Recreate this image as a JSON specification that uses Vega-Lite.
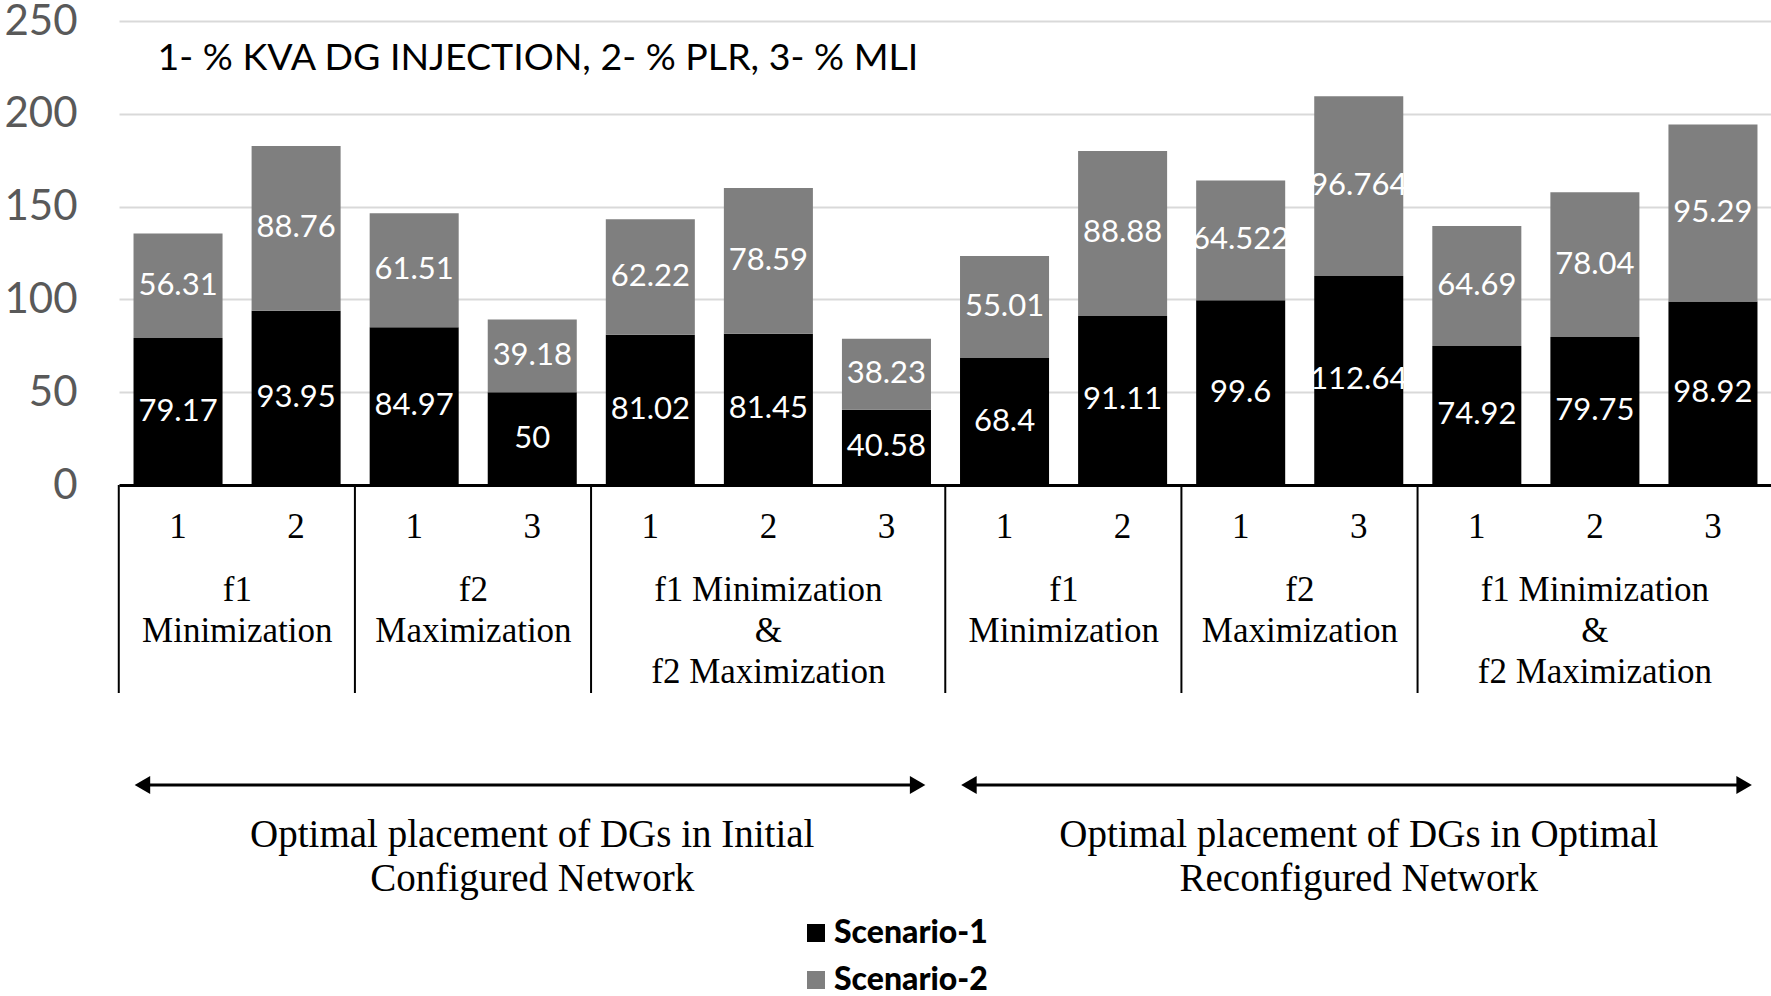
{
  "$schema": "https://vega.github.io/schema/vega-lite/v6.json",
  "background": "white",
  "padding": {"top": 0, "left": 3, "right": 0, "bottom": 0},
  "bounds": "flush",
  "spacing": 0,
  "config": {"view": {"stroke": null}, "font": "Lato"},
  "datasets": {
    "bars": [
      {"id": "01", "net": "Initial", "obj": "f1\nMinimization", "metric": "1", "scenario": "Scenario-1", "value": 79.17},
      {"id": "01", "net": "Initial", "obj": "f1\nMinimization", "metric": "1", "scenario": "Scenario-2", "value": 56.31},
      {"id": "02", "net": "Initial", "obj": "f1\nMinimization", "metric": "2", "scenario": "Scenario-1", "value": 93.95},
      {"id": "02", "net": "Initial", "obj": "f1\nMinimization", "metric": "2", "scenario": "Scenario-2", "value": 88.76},
      {"id": "03", "net": "Initial", "obj": "f2\nMaximization", "metric": "1", "scenario": "Scenario-1", "value": 84.97},
      {"id": "03", "net": "Initial", "obj": "f2\nMaximization", "metric": "1", "scenario": "Scenario-2", "value": 61.51},
      {"id": "04", "net": "Initial", "obj": "f2\nMaximization", "metric": "3", "scenario": "Scenario-1", "value": 50},
      {"id": "04", "net": "Initial", "obj": "f2\nMaximization", "metric": "3", "scenario": "Scenario-2", "value": 39.18},
      {"id": "05", "net": "Initial", "obj": "f1 Minimization\n&\nf2 Maximization", "metric": "1", "scenario": "Scenario-1", "value": 81.02},
      {"id": "05", "net": "Initial", "obj": "f1 Minimization\n&\nf2 Maximization", "metric": "1", "scenario": "Scenario-2", "value": 62.22},
      {"id": "06", "net": "Initial", "obj": "f1 Minimization\n&\nf2 Maximization", "metric": "2", "scenario": "Scenario-1", "value": 81.45},
      {"id": "06", "net": "Initial", "obj": "f1 Minimization\n&\nf2 Maximization", "metric": "2", "scenario": "Scenario-2", "value": 78.59},
      {"id": "07", "net": "Initial", "obj": "f1 Minimization\n&\nf2 Maximization", "metric": "3", "scenario": "Scenario-1", "value": 40.58},
      {"id": "07", "net": "Initial", "obj": "f1 Minimization\n&\nf2 Maximization", "metric": "3", "scenario": "Scenario-2", "value": 38.23},
      {"id": "08", "net": "Optimal", "obj": "f1\nMinimization", "metric": "1", "scenario": "Scenario-1", "value": 68.4},
      {"id": "08", "net": "Optimal", "obj": "f1\nMinimization", "metric": "1", "scenario": "Scenario-2", "value": 55.01},
      {"id": "09", "net": "Optimal", "obj": "f1\nMinimization", "metric": "2", "scenario": "Scenario-1", "value": 91.11},
      {"id": "09", "net": "Optimal", "obj": "f1\nMinimization", "metric": "2", "scenario": "Scenario-2", "value": 88.88},
      {"id": "10", "net": "Optimal", "obj": "f2\nMaximization", "metric": "1", "scenario": "Scenario-1", "value": 99.6},
      {"id": "10", "net": "Optimal", "obj": "f2\nMaximization", "metric": "1", "scenario": "Scenario-2", "value": 64.522},
      {"id": "11", "net": "Optimal", "obj": "f2\nMaximization", "metric": "3", "scenario": "Scenario-1", "value": 112.64},
      {"id": "11", "net": "Optimal", "obj": "f2\nMaximization", "metric": "3", "scenario": "Scenario-2", "value": 96.764},
      {"id": "12", "net": "Optimal", "obj": "f1 Minimization\n&\nf2 Maximization", "metric": "1", "scenario": "Scenario-1", "value": 74.92},
      {"id": "12", "net": "Optimal", "obj": "f1 Minimization\n&\nf2 Maximization", "metric": "1", "scenario": "Scenario-2", "value": 64.69},
      {"id": "13", "net": "Optimal", "obj": "f1 Minimization\n&\nf2 Maximization", "metric": "2", "scenario": "Scenario-1", "value": 79.75},
      {"id": "13", "net": "Optimal", "obj": "f1 Minimization\n&\nf2 Maximization", "metric": "2", "scenario": "Scenario-2", "value": 78.04},
      {"id": "14", "net": "Optimal", "obj": "f1 Minimization\n&\nf2 Maximization", "metric": "3", "scenario": "Scenario-1", "value": 98.92},
      {"id": "14", "net": "Optimal", "obj": "f1 Minimization\n&\nf2 Maximization", "metric": "3", "scenario": "Scenario-2", "value": 95.29}
    ],
    "nets": [
      {"net": "Initial", "first": "01", "mid": "04", "last": "07", "caption": "Optimal placement of DGs in Initial\nConfigured Network"},
      {"net": "Optimal", "first": "08", "mid": "11", "last": "14", "caption": "Optimal placement of DGs in Optimal\nReconfigured Network"}
    ]
  },
  "resolve": {"scale": {"x": "shared"}},
  "vconcat": [
    {
      "width": 1653,
      "height": 464,
      "data": {"name": "bars"},
      "layer": [
        {
          "mark": {"type": "bar"},
          "encoding": {
            "x": {"field": "id", "type": "nominal", "scale": {"paddingInner": 0.246, "paddingOuter": 0.123},
                  "axis": {"labels": false, "ticks": false, "title": null, "grid": false, "domainColor": "#000000", "domainWidth": 3}},
            "y": {"field": "value", "type": "quantitative", "stack": "zero", "scale": {"domain": [0, 250], "nice": false},
                  "axis": {"values": [0, 50, 100, 150, 200, 250], "title": null, "domain": false, "ticks": false,
                           "labelFont": "Lato", "labelFontSize": 42, "labelColor": "#595959", "labelPadding": 42,
                           "gridColor": "#d9d9d9", "gridWidth": 2}},
            "color": {"field": "scenario", "type": "nominal",
                      "scale": {"domain": ["Scenario-1", "Scenario-2"], "range": ["#000000", "#7f7f7f"]},
                      "legend": {"orient": "none", "legendX": 681, "legendY": 896, "title": null,
                                 "symbolType": "square", "symbolSize": 324, "symbolStrokeWidth": 0,
                                 "labelFont": "Lato", "labelFontSize": 32, "labelFontWeight": 900,
                                 "labelColor": "#000000", "rowPadding": 15, "labelOffset": 2}},
            "order": {"field": "scenario", "sort": "ascending"}
          }
        },
        {
          "mark": {"type": "text", "color": "white", "font": "Lato", "fontSize": 31, "baseline": "middle"},
          "encoding": {
            "x": {"field": "id", "type": "nominal"},
            "y": {"field": "value", "type": "quantitative", "stack": "zero", "bandPosition": 0.5},
            "detail": {"field": "scenario"},
            "order": {"field": "scenario", "sort": "ascending"},
            "text": {"field": "value", "type": "quantitative"}
          }
        },
        {
          "data": {"values": [{"note": "1- % KVA DG INJECTION, 2- % PLR, 3- % MLI"}]},
          "mark": {"type": "text", "align": "left", "baseline": "middle", "font": "Lato", "fontSize": 37.5, "color": "#000000", "dx": 24},
          "encoding": {
            "x": {"datum": "01", "type": "nominal", "bandPosition": 0},
            "y": {"datum": 229.5, "type": "quantitative"},
            "text": {"field": "note"}
          }
        }
      ]
    },
    {
      "width": 1653,
      "height": 500,
      "layer": [
        {
          "data": {"name": "bars"},
          "transform": [{"filter": "datum.scenario === 'Scenario-1'"}],
          "mark": {"type": "text", "font": "Liberation Serif", "fontSize": 35, "baseline": "middle", "color": "#000000"},
          "encoding": {
            "x": {"field": "id", "type": "nominal", "axis": null, "scale": {"paddingInner": 0.246, "paddingOuter": 0.123}},
            "y": {"datum": 42, "type": "quantitative", "scale": {"domain": [0, 500], "reverse": true, "nice": false}, "axis": null},
            "text": {"field": "metric"}
          }
        },
        {
          "data": {"name": "bars"},
          "transform": [
            {"filter": "datum.scenario === 'Scenario-1'"},
            {"window": [{"op": "row_number", "as": "rn"}], "groupby": ["net", "obj"]},
            {"filter": "datum.rn === 1"}
          ],
          "mark": {"type": "rule", "color": "#000000", "strokeWidth": 2},
          "encoding": {
            "x": {"field": "id", "type": "nominal", "bandPosition": -0.1657},
            "y": {"datum": 0, "type": "quantitative"},
            "y2": {"datum": 208}
          }
        },
        {
          "data": {"name": "bars"},
          "transform": [
            {"filter": "datum.scenario === 'Scenario-1'"},
            {"window": [{"op": "row_number", "as": "rn"}], "groupby": ["net", "obj"]},
            {"joinaggregate": [{"op": "count", "as": "n"}], "groupby": ["net", "obj"]},
            {"filter": "datum.n === 2 && datum.rn === 1"}
          ],
          "mark": {"type": "text", "font": "Liberation Serif", "fontSize": 35, "baseline": "top", "lineBreak": "\n", "lineHeight": 41, "color": "#000000"},
          "encoding": {
            "x": {"field": "id", "type": "nominal", "bandPosition": 1.1657},
            "y": {"datum": 88, "type": "quantitative"},
            "text": {"field": "obj"}
          }
        },
        {
          "data": {"name": "bars"},
          "transform": [
            {"filter": "datum.scenario === 'Scenario-1'"},
            {"window": [{"op": "row_number", "as": "rn"}], "groupby": ["net", "obj"]},
            {"joinaggregate": [{"op": "count", "as": "n"}], "groupby": ["net", "obj"]},
            {"filter": "datum.n === 3 && datum.rn === 2"}
          ],
          "mark": {"type": "text", "font": "Liberation Serif", "fontSize": 35, "baseline": "top", "lineBreak": "\n", "lineHeight": 41, "color": "#000000"},
          "encoding": {
            "x": {"field": "id", "type": "nominal", "bandPosition": 0.5},
            "y": {"datum": 88, "type": "quantitative"},
            "text": {"field": "obj"}
          }
        },
        {
          "data": {"name": "nets"},
          "mark": {"type": "rule", "color": "#000000", "strokeWidth": 3},
          "encoding": {
            "x": {"field": "first", "type": "nominal", "bandPosition": 0.1},
            "x2": {"field": "last", "bandPosition": 0.85},
            "y": {"datum": 300, "type": "quantitative"}
          }
        },
        {
          "data": {"name": "nets"},
          "mark": {"type": "point", "shape": "triangle-left", "filled": true, "color": "#000000", "size": 320, "opacity": 1},
          "encoding": {
            "x": {"field": "first", "type": "nominal", "bandPosition": 0.1},
            "y": {"datum": 300, "type": "quantitative"}
          }
        },
        {
          "data": {"name": "nets"},
          "mark": {"type": "point", "shape": "triangle-right", "filled": true, "color": "#000000", "size": 320, "opacity": 1},
          "encoding": {
            "x": {"field": "last", "type": "nominal", "bandPosition": 0.85},
            "y": {"datum": 300, "type": "quantitative"}
          }
        },
        {
          "data": {"name": "nets"},
          "mark": {"type": "text", "font": "Liberation Serif", "fontSize": 39, "baseline": "top", "lineBreak": "\n", "lineHeight": 44, "color": "#000000"},
          "encoding": {
            "x": {"field": "mid", "type": "nominal", "bandPosition": 0.5},
            "y": {"datum": 331, "type": "quantitative"},
            "text": {"field": "caption"}
          }
        }
      ]
    }
  ]
}
